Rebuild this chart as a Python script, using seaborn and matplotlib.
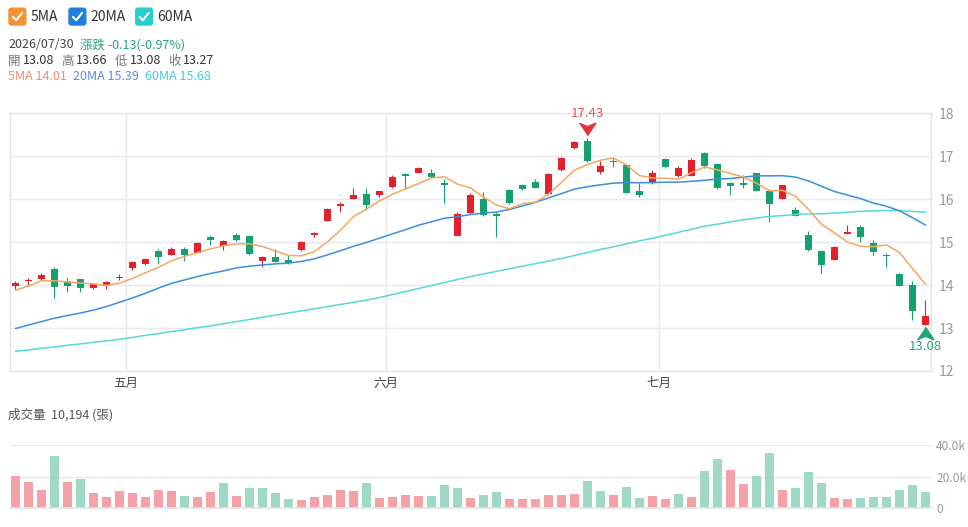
import numpy as np
import pandas as pd
import matplotlib
matplotlib.use("Agg")
import matplotlib.pyplot as plt
import seaborn as sns
from matplotlib.patches import FancyBboxPatch

# daily candles, 2026 (last one is 07/30)
opens = [13.97, 14.09, 14.14, 14.37, 14.10, 14.15, 13.93, 13.98, 14.16, 14.40,
         14.50, 14.80, 14.71, 14.83, 14.74, 15.12, 14.92, 15.16, 15.14, 14.57,
         14.65, 14.58, 14.81, 15.16, 15.50, 15.85, 16.01, 16.12, 16.10, 16.29,
         16.58, 16.61, 16.60, 16.37, 15.15, 15.67, 16.00, 15.66, 16.22, 16.33,
         16.40, 16.12, 16.67, 17.19, 17.36, 16.64, 16.90, 16.80, 16.19, 16.37,
         16.93, 16.53, 16.55, 17.07, 16.83, 16.38, 16.38, 16.60, 16.19, 16.00,
         15.76, 15.16, 14.80, 14.59, 15.19, 15.36, 14.99, 14.71, 14.27, 14.00,
         13.08]
highs = [14.10, 14.16, 14.28, 14.41, 14.17, 14.15, 14.05, 14.09, 14.26, 14.55,
         14.63, 14.84, 14.88, 14.88, 15.00, 15.16, 15.05, 15.21, 15.17, 14.67,
         14.84, 14.71, 15.02, 15.24, 15.79, 15.94, 16.25, 16.25, 16.20, 16.57,
         16.60, 16.74, 16.70, 16.47, 15.70, 16.14, 16.16, 15.71, 16.23, 16.36,
         16.46, 16.60, 16.98, 17.36, 17.43, 16.88, 16.97, 16.81, 16.38, 16.67,
         16.95, 16.78, 16.95, 17.09, 16.84, 16.41, 16.57, 16.62, 16.24, 16.33,
         15.81, 15.26, 14.82, 14.90, 15.39, 15.39, 15.05, 14.74, 14.29, 14.10,
         13.66]
lows = [13.92, 13.97, 14.12, 13.70, 13.85, 13.83, 13.91, 13.91, 14.12, 14.36,
        14.46, 14.49, 14.71, 14.55, 14.74, 14.94, 14.82, 15.03, 14.71, 14.42,
        14.53, 14.49, 14.80, 15.12, 15.50, 15.71, 16.01, 15.75, 16.06, 16.27,
        16.24, 16.60, 16.50, 15.91, 15.15, 15.65, 15.61, 15.11, 15.88, 16.22,
        16.26, 16.10, 16.66, 17.18, 16.87, 16.59, 16.76, 16.14, 16.06, 16.36,
        16.72, 16.51, 16.53, 16.72, 16.23, 16.09, 16.27, 16.18, 15.47, 16.00,
        15.60, 14.80, 14.28, 14.58, 15.18, 15.01, 14.71, 14.43, 13.97, 13.19,
        13.08]
closes = [14.06, 14.13, 14.24, 13.95, 13.99, 13.93, 14.03, 14.07, 14.20, 14.53,
          14.61, 14.66, 14.83, 14.71, 14.97, 15.04, 15.03, 15.05, 14.72, 14.65,
          14.53, 14.51, 15.00, 15.22, 15.77, 15.89, 16.09, 15.87, 16.19, 16.52,
          16.53, 16.72, 16.51, 16.33, 15.66, 16.10, 15.64, 15.60, 15.90, 16.24,
          16.27, 16.58, 16.96, 17.34, 16.88, 16.77, 16.86, 16.14, 16.10, 16.60,
          16.74, 16.73, 16.91, 16.78, 16.26, 16.31, 16.32, 16.20, 15.88, 16.32,
          15.61, 14.81, 14.47, 14.88, 15.24, 15.12, 14.77, 14.67, 13.98, 13.40,
          13.27]
volumes = [20300, 16700, 11300, 32900, 16500, 18600, 9400, 6600, 10700, 9600,
           6800, 11300, 10500, 7300, 6800, 10100, 15600, 7700, 12600, 12400,
           9200, 5600, 4700, 6600, 7900, 11300, 10900, 15600, 6200, 6800,
           8300, 7700, 7700, 14300, 12400, 6000, 8100, 9800, 5800, 5300,
           5800, 8100, 7900, 8800, 17300, 10700, 7900, 13300, 6200, 7700,
           5300, 8800, 7100, 23500, 31200, 24200, 15400, 20300, 35100, 11600,
           12400, 22900, 15600, 6200, 5800, 6400, 6800, 6800, 11300, 14500,
           10194]

# moving averages at the left edge need older closes ->
ma5_head = [13.88, 13.98, 14.10, 14.10]
ma20_head = [12.99, 13.07, 13.15, 13.23, 13.29, 13.35, 13.42, 13.50, 13.60, 13.70,
             13.81, 13.93, 14.04, 14.12, 14.20, 14.27, 14.33, 14.40, 14.44]
ma60_head = [12.46, 12.49, 12.53, 12.56, 12.60, 12.63, 12.67, 12.70, 12.74, 12.78,
             12.83, 12.87, 12.92, 12.96, 13.01, 13.05, 13.10, 13.15, 13.20, 13.25,
             13.30, 13.35, 13.40, 13.45, 13.50, 13.55, 13.60, 13.65, 13.71, 13.78,
             13.85, 13.92, 13.99, 14.06, 14.13, 14.20, 14.26, 14.32, 14.38, 14.44,
             14.50, 14.56, 14.62, 14.69, 14.76, 14.83, 14.89, 14.96, 15.03, 15.09,
             15.16, 15.23, 15.30, 15.37, 15.42, 15.47, 15.52, 15.56, 15.60]

month_ticks = [8.5, 28.5, 49.5]
month_labels = ["五月", "六月", "七月"]

UP, DOWN = "#e4202c", "#16a070"
UP_VOL, DOWN_VOL = "#f4a2a8", "#9fd9c3"
C5, C20, C60 = "#f6a75e", "#3a8ee0", "#55d8d8"
GRID = "#e6e9f0"

df = pd.DataFrame({"open": opens, "high": highs, "low": lows,
                   "close": closes, "volume": volumes})
df["i"] = np.arange(len(df))
for n, head in [(5, ma5_head), (20, ma20_head), (60, ma60_head)]:
    ma = df["close"].rolling(n).mean()
    ma.iloc[:len(head)] = head
    df[f"ma{n}"] = ma
prev = df["close"].shift(1).fillna(df["close"].iloc[0] - 0.01)
df["vdir"] = np.where(df["close"] >= prev, "up", "down")

sns.set_theme(style="white")
plt.rcParams["font.family"] = ["Noto Sans CJK TC", "DejaVu Sans"]

W, H = 968, 527
fig = plt.figure(figsize=(W / 100, H / 100), dpi=100)


def box(x0, y0, x1, y1):
    return [x0 / W, 1 - y1 / H, (x1 - x0) / W, (y1 - y0) / H]


# header drawn in pixel coordinates
hdr = fig.add_axes([0, 0, 1, 1])
hdr.set_xlim(0, W)
hdr.set_ylim(H, 0)
hdr.axis("off")
for bx, col, lab in [(8.3, "#f39232", "5MA"), (68.3, "#1f7fdc", "20MA"), (135, "#26cfcf", "60MA")]:
    hdr.add_patch(FancyBboxPatch((bx, 7.5), 18.2, 18.2, boxstyle="round,pad=0,rounding_size=3",
                                 fc=col, ec="none"))
    hdr.plot([bx + 4.5, bx + 8, bx + 13.8], [16.8, 20.2, 12.8], color="white", lw=1.5,
             solid_capstyle="round", solid_joinstyle="round")
    hdr.text(bx + 22.5, 16.8, lab, fontsize=10, color="#333333", va="center")

hdr.text(8, 44.5, "2026/07/30", fontsize=9, color="#444444", va="center")
hdr.text(80, 44.5, "漲跌 -0.13(-0.97%)", fontsize=9, color="#2aa37a", va="center")
for x, s, col in [(8, "開", "#777777"), (22.5, "13.08", "#333333"),
                  (61.5, "高", "#777777"), (76, "13.66", "#333333"),
                  (115, "低", "#777777"), (129.5, "13.08", "#333333"),
                  (168, "收", "#777777"), (182.5, "13.27", "#333333")]:
    hdr.text(x, 61, s, fontsize=9, color=col, va="center")
hdr.text(8, 77, "5MA 14.01", fontsize=9, color="#f58a72", va="center")
hdr.text(73, 77, "20MA 15.39", fontsize=9, color="#5f88ea", va="center")
hdr.text(145, 77, "60MA 15.68", fontsize=9, color="#42cbdc", va="center")
hdr.text(8, 415, "成交量  10,194 (張)", fontsize=9, color="#555555", va="center")

# price panel
ax = fig.add_axes(box(10, 113.3, 930.7, 371))
ax.grid(True, color=GRID, lw=1.0)
ax.set_axisbelow(True)
cols = np.where(df["close"] >= df["open"], UP, DOWN)
ax.vlines(df["i"], df["low"], df["high"], colors=cols, lw=0.8, zorder=2)
body_lo = np.minimum(df["open"], df["close"])
body_h = np.maximum((df["close"] - df["open"]).abs(), 0.035)
ax.bar(df["i"], body_h, bottom=body_lo, width=0.58, color=cols, linewidth=0, zorder=3)

sns.lineplot(data=df, x="i", y="ma60", ax=ax, color=C60, lw=1.1, zorder=4)
sns.lineplot(data=df, x="i", y="ma20", ax=ax, color=C20, lw=1.1, zorder=4)
sns.lineplot(data=df, x="i", y="ma5", ax=ax, color=C5, lw=1.1, zorder=4)

imax = int(df["high"].idxmax())
imin = int(df["low"].idxmin())
arrow_dn = [(-1, 0.75), (0, 0.35), (1, 0.75), (0, -0.75)]
arrow_up = [(-1, -0.75), (0, -0.35), (1, -0.75), (0, 0.75)]
ax.plot(imax, df["high"][imax] + 0.2, marker=arrow_dn, ms=12, color="#e6323d",
        ls="none", clip_on=False, zorder=5)
ax.text(imax, df["high"][imax] + 0.57, f"{df['high'][imax]:.2f}", color="#e6505a",
        fontsize=9.5, ha="center", va="center", clip_on=False)
ax.plot(imin, df["low"][imin] - 0.2, marker=arrow_up, ms=12, color="#1fa576",
        ls="none", clip_on=False, zorder=5)
ax.text(imin, df["low"][imin] - 0.51, f"{df['low'][imin]:.2f}", color="#2aa37a",
        fontsize=9.5, ha="center", va="center", clip_on=False)

ax.set_xlim(-0.42, 70.4)
ax.set_ylim(12, 18)
ax.set_yticks(range(12, 19))
ax.yaxis.tick_right()
ax.set_xticks(month_ticks)
ax.set_xticklabels(month_labels)
ax.tick_params(axis="y", length=0, pad=6, labelsize=10, labelcolor="#999999")
ax.tick_params(axis="x", length=0, pad=4, labelsize=9, labelcolor="#444444")
ax.set_xlabel("")
ax.set_ylabel("")
for sp in ax.spines.values():
    sp.set_color("#e1e4ea")
    sp.set_linewidth(1.0)

# volume panel
axv = fig.add_axes(box(10, 445.3, 930.7, 507.7))
sns.barplot(data=df, x="i", y="volume", hue="vdir", palette={"up": UP_VOL, "down": DOWN_VOL},
            dodge=False, legend=False, width=0.69, saturation=1, errorbar=None,
            linewidth=0, ax=axv)
axv.grid(True, axis="y", color=GRID, lw=1.0)
axv.grid(False, axis="x")
axv.set_axisbelow(True)
axv.set_xlim(-0.42, 70.4)
axv.set_ylim(0, 40000)
axv.set_yticks([0, 20000, 40000])
axv.set_yticklabels(["0", "20.0k", "40.0k"])
axv.yaxis.tick_right()
axv.set_xticks([])
axv.tick_params(axis="y", length=0, pad=4, labelsize=8.6, labelcolor="#999999")
axv.set_xlabel("")
axv.set_ylabel("")
for name, sp in axv.spines.items():
    sp.set_visible(name == "bottom")
axv.spines["bottom"].set_color("#e1e4ea")

fig.savefig("out.png", dpi=100)
